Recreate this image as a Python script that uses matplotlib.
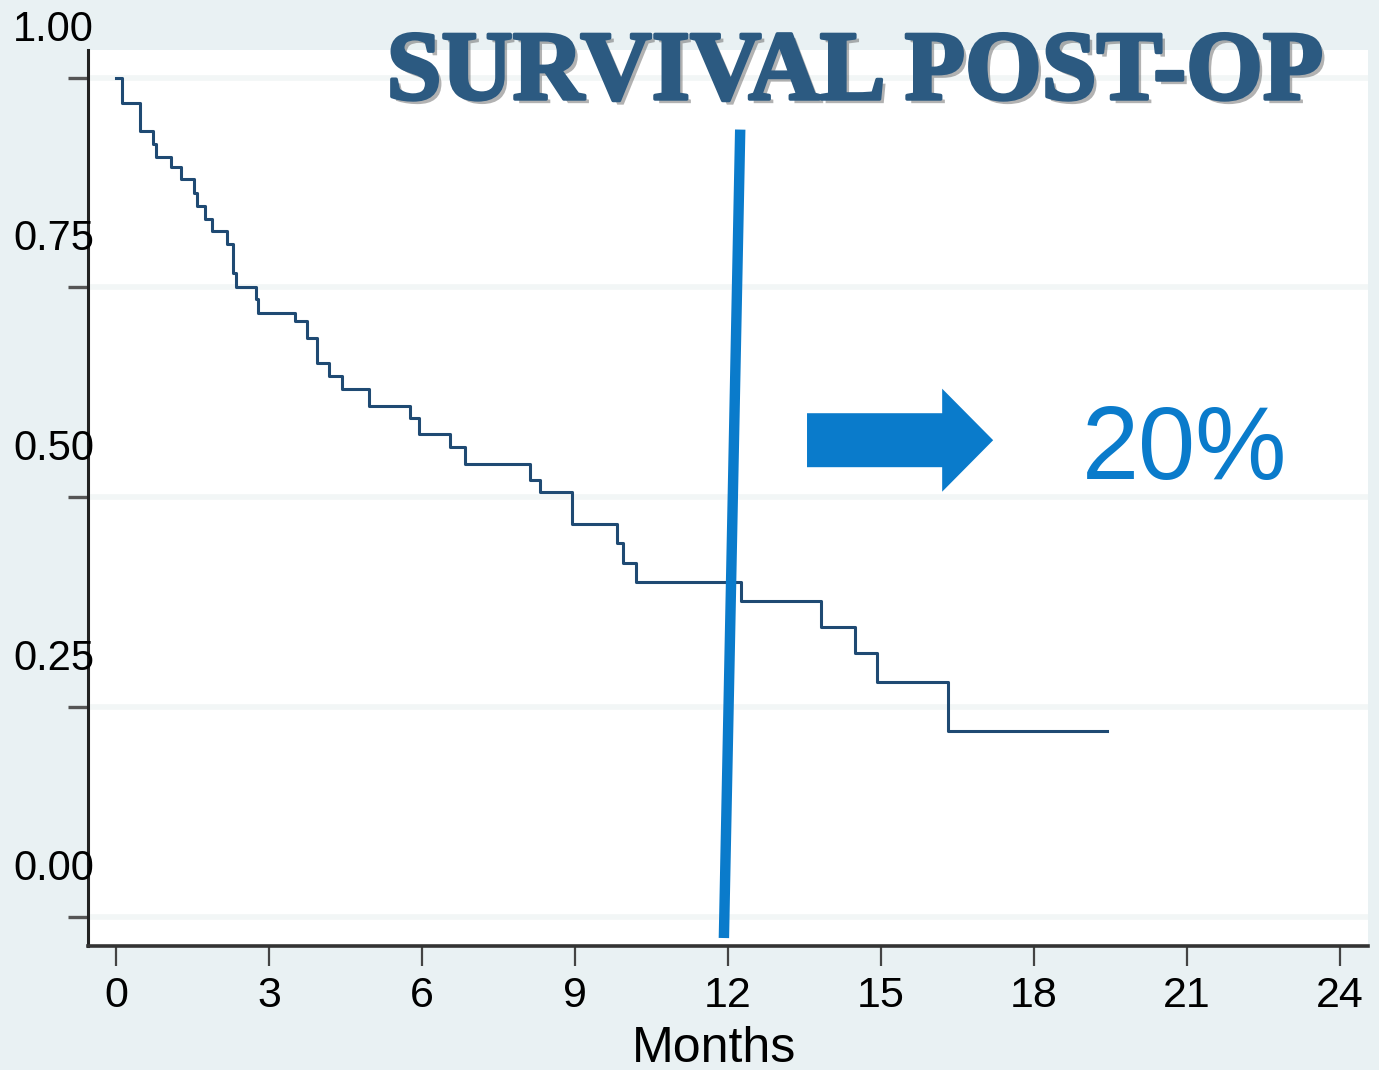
import matplotlib
matplotlib.use("Agg")
import matplotlib.pyplot as plt
import matplotlib.patheffects as pe
from matplotlib.patches import FancyArrow
from matplotlib.transforms import ScaledTranslation

# Kaplan-Meier step data (months, survival after drop)
times = [0.0, 0.12, 0.47, 0.73, 0.78, 1.08, 1.27, 1.52, 1.58, 1.75, 1.89, 2.18,
         2.30, 2.35, 2.74, 2.78, 3.51, 3.75, 3.95, 4.18, 4.44, 4.97, 5.77, 5.94,
         6.55, 6.84, 8.12, 8.31, 8.94, 9.82, 9.94, 10.20, 12.25, 13.82, 14.49,
         14.93, 16.32, 19.43]
surv = [1.000, 0.970, 0.936, 0.921, 0.905, 0.893, 0.879, 0.863, 0.847, 0.832,
        0.817, 0.802, 0.767, 0.751, 0.736, 0.720, 0.710, 0.690, 0.660, 0.644,
        0.629, 0.609, 0.594, 0.575, 0.560, 0.540, 0.521, 0.506, 0.468, 0.445,
        0.422, 0.399, 0.376, 0.345, 0.314, 0.280, 0.222, 0.222]

xticks = [0, 3, 6, 9, 12, 15, 18, 21, 24]
yticks = [0.0, 0.25, 0.5, 0.75, 1.0]
ytick_labels = ["0.00", "0.25", "0.50", "0.75", "1.00"]

# hand-drawn 12 month marker line (slightly tilted)
marker_x = [12.24, 11.92]
marker_y = [0.938, -0.025]

title = "SURVIVAL POST-OP"
pct_label = "20%"

bg = "#e9f1f3"
navy = "#1f4a73"
blue = "#0a7bcb"
title_col = "#2c5a81"

fig = plt.figure(figsize=(13.79, 10.70), dpi=100, facecolor=bg)
ax = fig.add_axes([88 / 1379, 124 / 1070, 1280 / 1379, 896 / 1070])
ax.set_facecolor("white")

ax.set_xlim(-0.549, 24.55)
ax.set_ylim(-0.0345, 1.0328)

# faint gridlines
for v in yticks:
    ax.axhline(v, color="#f2f6f6", lw=4, zorder=0)

ax.step(times, surv, where="post", color=navy, lw=2.2, zorder=3)

ax.plot(marker_x, marker_y, color=blue, lw=7.5, solid_capstyle="butt", zorder=4)

arr = FancyArrow(13.55, 0.568, 17.20 - 13.55, 0, width=0.0643, head_width=0.1227,
                 head_length=1.0, length_includes_head=True, color=blue, lw=0, zorder=4)
ax.add_patch(arr)

ax.text(20.96, 0.522, pct_label, color=blue, fontsize=74, family="Liberation Sans",
        ha="center", va="baseline", zorder=5)

# spines
for s in ["top", "right"]:
    ax.spines[s].set_visible(False)
ax.spines["left"].set_color("#222222")
ax.spines["left"].set_linewidth(2.2)
ax.spines["bottom"].set_color("#333333")
ax.spines["bottom"].set_linewidth(2.6)

ax.set_xticks(xticks)
ax.set_xticklabels([str(t) for t in xticks], fontsize=31, family="Liberation Sans")
ax.tick_params(axis="x", length=14.4, width=1.6, color="#444444", pad=7)

ax.set_yticks(yticks)
ax.set_yticklabels([])
ax.tick_params(axis="y", length=14.4, width=2.4, color="#555555")

# y labels sit offset above their ticks, as in the original
off = ScaledTranslation(-75 / 100, 37 / 100, fig.dpi_scale_trans)
for v, lab in zip(yticks, ytick_labels):
    ax.text(0, v, lab, transform=ax.get_yaxis_transform() + off, fontsize=30,
            family="Liberation Sans", ha="left", va="baseline", clip_on=False)

ax.set_xlabel("Months", fontsize=36, family="Liberation Sans")
ax.xaxis.set_label_coords((714 - 88) / 1280, -0.089)

fig.text(855 / 1379, 1 - 99 / 1070, title, fontsize=71, family="Liberation Serif",
         weight="bold", color=title_col, ha="center", va="baseline",
         path_effects=[pe.SimplePatchShadow(offset=(3, -3), shadow_rgbFace="#555555", alpha=0.45),
                       pe.Stroke(linewidth=2.5, foreground=title_col), pe.Normal()])

fig.savefig("out.png", dpi=100, facecolor=bg)
